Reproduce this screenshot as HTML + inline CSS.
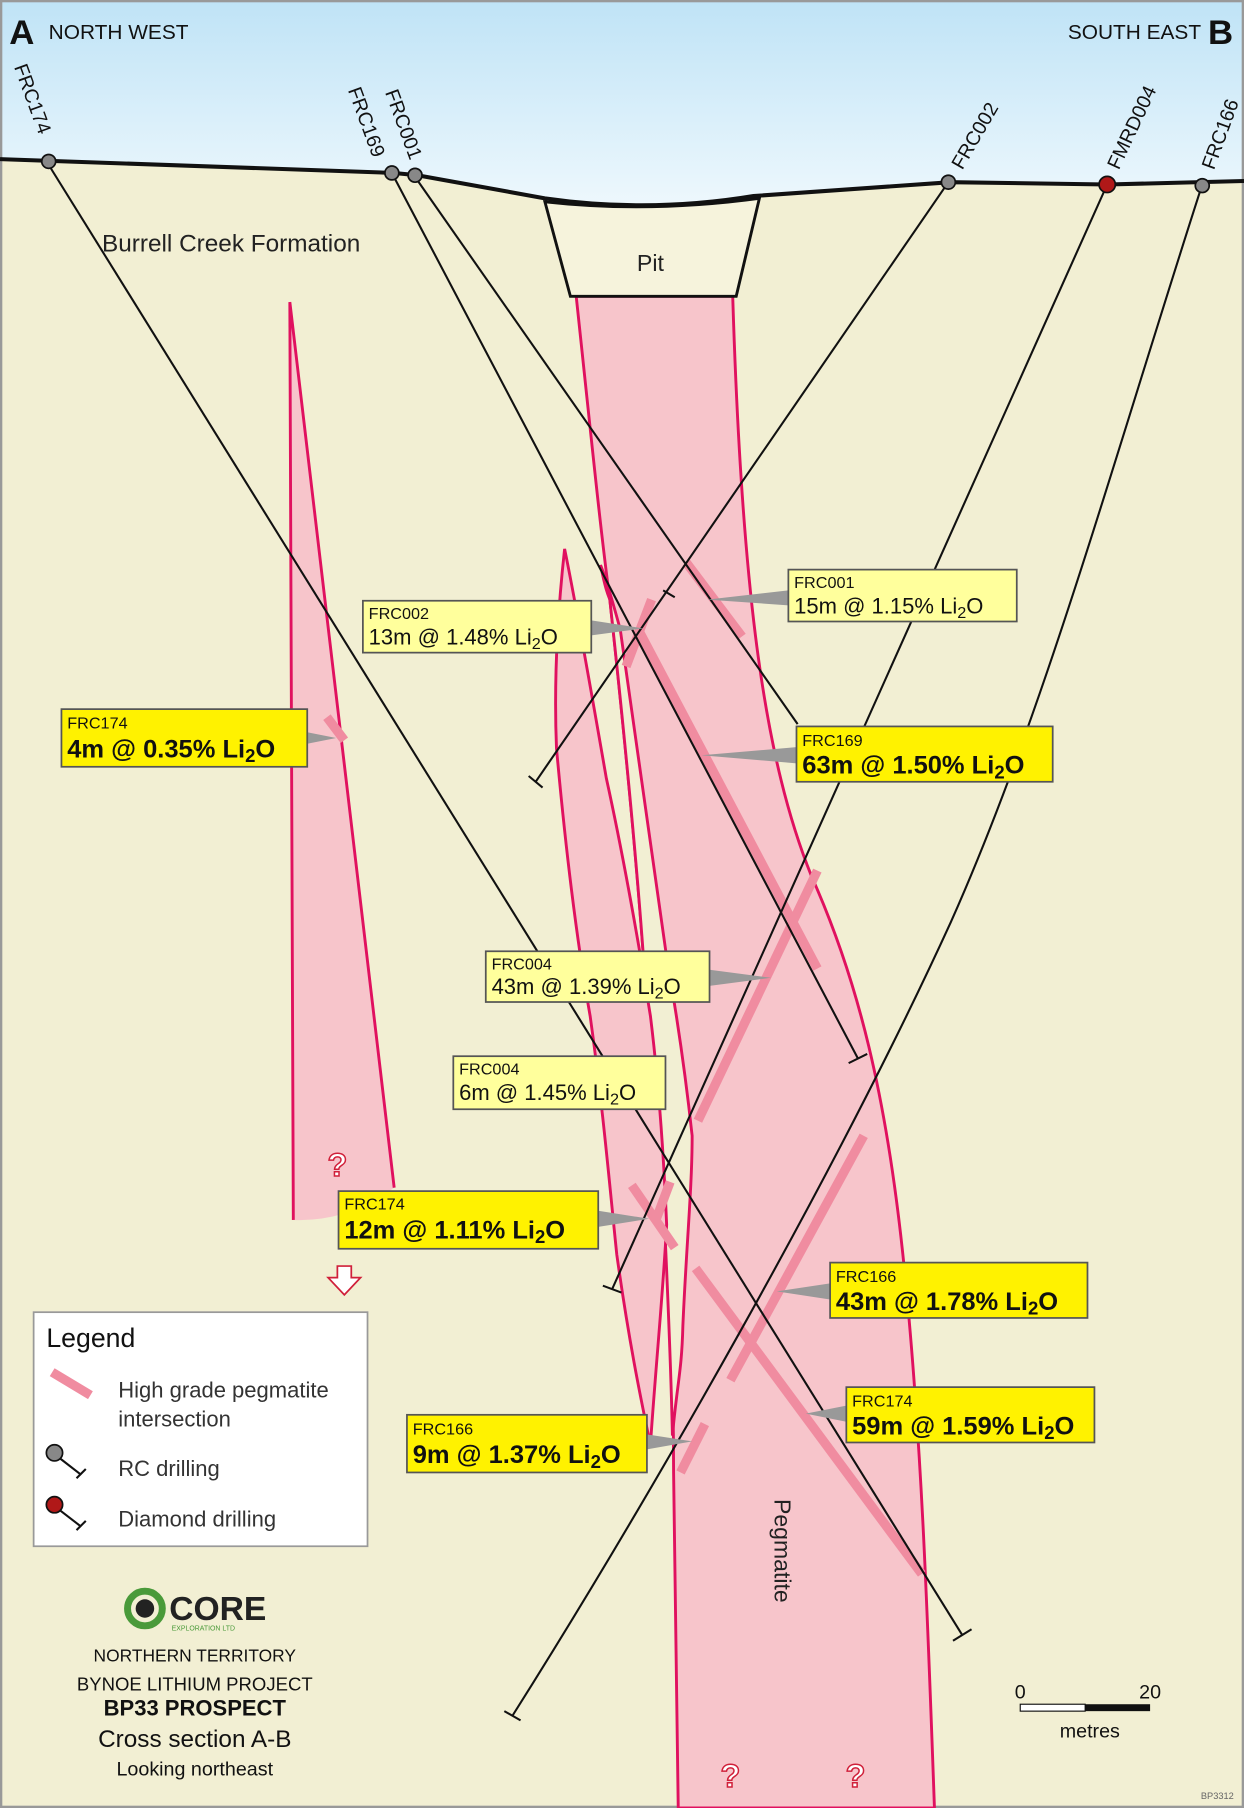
<!DOCTYPE html>
<html><head><meta charset="utf-8"><style>
html,body{margin:0;padding:0;background:#fff}
svg{display:block}
text{font-family:"Liberation Sans",sans-serif}
</style></head><body>
<svg width="1244" height="1808" viewBox="0 0 1073 1568" preserveAspectRatio="none" xmlns="http://www.w3.org/2000/svg">
<defs>
<linearGradient id="sky" x1="0" y1="0" x2="0" y2="1">
<stop offset="0" stop-color="#bfe3f6"/><stop offset="1" stop-color="#eef8fd"/>
</linearGradient>
</defs>
<rect x="0" y="0" width="1073" height="1568" fill="#f2efd3"/>
<path d="M0,0H1073V157L955,160L820,158L650,170Q600,178 560,180L470,172L360,152L340,150L0,138Z" fill="url(#sky)"/>
<rect x="1" y="1" width="1071" height="1566" fill="none" stroke="#999" stroke-width="2"/>

<!-- pegmatite main -->
<path d="M497,257 C510,380 518,460 526,520 C540,650 550,760 555,830 C565,930 570,990 572,1036 C578,1120 581,1200 581,1277 L585,1568 L806,1568 C800,1400 795,1250 780,1100 C765,950 740,850 700,760 C660,660 640,520 632,257 Z" fill="#f7c5cb" stroke="#e0115f" stroke-width="2.5"/>
<!-- beige sliver inside main body -->
<path d="M518,490 C522,510 524,515 526,520 C540,650 550,760 555,830 C565,930 570,990 572,1036 C576,1120 579,1200 580,1245 C584,1200 588,1190 589,1150 C592,1080 597,1030 597,985 C590,920 582,870 575,830 C560,720 545,620 535,546 C528,520 522,500 518,490Z" fill="#f2efd3" stroke="#e0115f" stroke-width="2.5"/>
<!-- left sliver -->
<path d="M250,262 L253,1058 Q300,1060 340,1030 C320,850 290,600 250,262Z" fill="#f7c5cb"/>
<path d="M253,1058 L250,262 C290,600 320,850 340,1030" fill="none" stroke="#e0115f" stroke-width="2.5"/>
<!-- pink lens -->
<path d="M487,476 C480,540 478,600 480,649 C490,760 500,830 509,881 C520,960 526,1030 532,1088 C542,1160 552,1210 561,1253 C566,1180 572,1120 575,1062 C572,990 567,930 561,881 C548,800 535,730 523,675 C510,600 498,530 487,476Z" fill="#f7c5cb" stroke="#e0115f" stroke-width="2.5"/>

<!-- pit -->
<path d="M470,175 Q560,185 655,172 L635,257 L492,257 Z" fill="#f6f3dc" stroke="#111" stroke-width="2.5"/>
<text x="561" y="235" font-size="20" text-anchor="middle" fill="#222">Pit</text>

<!-- ground line -->
<path d="M0,138 L340,150 L360,152 L470,172 Q560,185 650,170 L820,158 L955,160 L1073,157" fill="none" stroke="#111" stroke-width="3.5"/>

<!-- highlights -->
<g stroke="#f08ca0" stroke-width="8" stroke-linecap="butt" fill="none">
<line x1="592" y1="488" x2="640" y2="552"/>
<line x1="562" y1="520" x2="540" y2="578"/>
<line x1="550" y1="545" x2="705" y2="840"/>
<line x1="705" y1="755" x2="602" y2="972"/>
<line x1="282" y1="622" x2="297" y2="642"/>
<line x1="545" y1="1028" x2="582" y2="1082"/>
<line x1="600" y1="1100" x2="795" y2="1365"/>
<line x1="745" y1="985" x2="630" y2="1197"/>
<line x1="608" y1="1235" x2="587" y2="1277"/>
<line x1="578" y1="1025" x2="565" y2="1060"/>
</g>

<!-- drill holes -->
<g stroke="#111" stroke-width="1.8" fill="none">
<line x1="42" y1="143" x2="830" y2="1418"/><line x1="822" y1="1423" x2="838" y2="1413"/>
<line x1="338" y1="150" x2="740" y2="918"/><line x1="732" y1="922" x2="748" y2="914"/>
<line x1="357" y1="152" x2="688" y2="628"/>
<line x1="818" y1="158" x2="462" y2="678"/><line x1="456" y1="673" x2="468" y2="683"/>
<line x1="955" y1="160" x2="528" y2="1118"/><line x1="520" y1="1115" x2="536" y2="1121"/>
<path d="M1037,160 C960,400 900,620 820,800 C720,1020 560,1300 442,1488"/><line x1="435" y1="1484" x2="449" y2="1492"/>
<line x1="572" y1="512" x2="582" y2="518"/>
</g>
<g stroke="#111" stroke-width="1.5">
<circle cx="42" cy="140" r="6" fill="#888"/>
<circle cx="338" cy="150" r="6" fill="#888"/>
<circle cx="358" cy="152" r="6" fill="#888"/>
<circle cx="818" cy="158" r="6" fill="#888"/>
<circle cx="955" cy="160" r="7" fill="#b01818"/>
<circle cx="1037" cy="161" r="6" fill="#888"/>
</g>

<!-- drill labels -->
<g font-size="17" fill="#111">
<text transform="translate(12,58) rotate(70)">FRC174</text>
<text transform="translate(300,78) rotate(70)">FRC169</text>
<text transform="translate(332,80) rotate(70)">FRC001</text>
<text transform="translate(830,148) rotate(-60)">FRC002</text>
<text transform="translate(965,148) rotate(-65)">FMRD004</text>
<text transform="translate(1047,148) rotate(-70)">FRC166</text>
</g>

<!-- header -->
<text x="8" y="38" font-size="30" font-weight="bold" fill="#111">A</text>
<text x="42" y="34" font-size="18" fill="#111">NORTH WEST</text>
<text x="1036" y="34" font-size="18" fill="#111" text-anchor="end">SOUTH EAST</text>
<text x="1042" y="38" font-size="30" font-weight="bold" fill="#111">B</text>
<text x="88" y="218" font-size="21" fill="#222">Burrell Creek Formation</text>
<text transform="translate(668,1300) rotate(90)" font-size="20" fill="#222">Pegmatite</text>

<!-- pointers -->
<g fill="#999">
<polygon points="680,512 680,525 610,520"/>
<polygon points="510,538 510,551 555,545"/>
<polygon points="265,635 265,645 290,640"/>
<polygon points="687,648 687,662 605,655"/>
<polygon points="612,841 612,855 665,848"/>
<polygon points="516,1050 516,1064 560,1057"/>
<polygon points="716,1113 716,1127 670,1120"/>
<polygon points="730,1219 730,1233 695,1226"/>
<polygon points="558,1244 558,1257 597,1250"/>
</g>

<!-- label boxes -->
<g stroke="#555" stroke-width="1.5">
<rect x="680" y="494" width="197" height="45" fill="#ffff9c"/>
<rect x="313" y="521" width="197" height="45" fill="#ffff9c"/>
<rect x="53" y="615" width="212" height="50" fill="#fff200"/>
<rect x="687" y="630" width="221" height="48" fill="#fff200"/>
<rect x="419" y="825" width="193" height="44" fill="#ffff9c"/>
<rect x="391" y="916" width="183" height="46" fill="#ffff9c"/>
<rect x="292" y="1033" width="224" height="50" fill="#fff200"/>
<rect x="716" y="1095" width="222" height="48" fill="#fff200"/>
<rect x="730" y="1203" width="214" height="48" fill="#fff200"/>
<rect x="351" y="1227" width="207" height="50" fill="#fff200"/>
</g>
<g fill="#111">
<text x="685" y="510" font-size="14">FRC001</text>
<text x="685" y="532" font-size="19">15m @ 1.15% Li<tspan font-size="14" dy="4">2</tspan><tspan dy="-4">O</tspan></text>
<text x="318" y="537" font-size="14">FRC002</text>
<text x="318" y="559" font-size="19">13m @ 1.48% Li<tspan font-size="14" dy="4">2</tspan><tspan dy="-4">O</tspan></text>
<text x="58" y="632" font-size="14">FRC174</text>
<text x="58" y="657" font-size="22" font-weight="bold">4m @ 0.35% Li<tspan font-size="16" dy="4">2</tspan><tspan dy="-4">O</tspan></text>
<text x="692" y="647" font-size="14">FRC169</text>
<text x="692" y="671" font-size="22" font-weight="bold">63m @ 1.50% Li<tspan font-size="16" dy="4">2</tspan><tspan dy="-4">O</tspan></text>
<text x="424" y="841" font-size="14">FRC004</text>
<text x="424" y="862" font-size="19">43m @ 1.39% Li<tspan font-size="14" dy="4">2</tspan><tspan dy="-4">O</tspan></text>
<text x="396" y="932" font-size="14">FRC004</text>
<text x="396" y="954" font-size="19">6m @ 1.45% Li<tspan font-size="14" dy="4">2</tspan><tspan dy="-4">O</tspan></text>
<text x="297" y="1049" font-size="14">FRC174</text>
<text x="297" y="1074" font-size="22" font-weight="bold">12m @ 1.11% Li<tspan font-size="16" dy="4">2</tspan><tspan dy="-4">O</tspan></text>
<text x="721" y="1112" font-size="14">FRC166</text>
<text x="721" y="1136" font-size="22" font-weight="bold">43m @ 1.78% Li<tspan font-size="16" dy="4">2</tspan><tspan dy="-4">O</tspan></text>
<text x="735" y="1220" font-size="14">FRC174</text>
<text x="735" y="1244" font-size="22" font-weight="bold">59m @ 1.59% Li<tspan font-size="16" dy="4">2</tspan><tspan dy="-4">O</tspan></text>
<text x="356" y="1244" font-size="14">FRC166</text>
<text x="356" y="1269" font-size="22" font-weight="bold">9m @ 1.37% Li<tspan font-size="16" dy="4">2</tspan><tspan dy="-4">O</tspan></text>
</g>

<!-- question marks -->
<g font-size="28" fill="#fff" stroke="#d0203a" stroke-width="1.3" text-anchor="middle" font-weight="bold">
<text x="291" y="1020">?</text>
<text x="630" y="1550">?</text>
<text x="738" y="1550">?</text>
</g>
<path d="M291,1098 h12 v10 h8 l-14,15 l-14,-15 h8 z" fill="#fff" stroke="#d0203a" stroke-width="1.5"/>

<!-- legend -->
<rect x="29" y="1138" width="288" height="203" fill="#fff" stroke="#999" stroke-width="1.5"/>
<text x="40" y="1168" font-size="23" fill="#111">Legend</text>
<line x1="45" y1="1190" x2="78" y2="1210" stroke="#f08ca0" stroke-width="8"/>
<text x="102" y="1212" font-size="19" fill="#333">High grade pegmatite</text>
<text x="102" y="1237" font-size="19" fill="#333">intersection</text>
<circle cx="47" cy="1260" r="7" fill="#888" stroke="#111" stroke-width="1.5"/>
<line x1="52" y1="1265" x2="70" y2="1279" stroke="#111" stroke-width="1.8"/><line x1="66" y1="1282" x2="74" y2="1274" stroke="#111" stroke-width="1.8"/>
<text x="102" y="1280" font-size="19" fill="#333">RC drilling</text>
<circle cx="47" cy="1305" r="7" fill="#b01818" stroke="#111" stroke-width="1.5"/>
<line x1="52" y1="1310" x2="70" y2="1324" stroke="#111" stroke-width="1.8"/><line x1="66" y1="1327" x2="74" y2="1319" stroke="#111" stroke-width="1.8"/>
<text x="102" y="1324" font-size="19" fill="#333">Diamond drilling</text>

<!-- logo -->
<circle cx="125" cy="1395" r="15" fill="none" stroke="#4a9a3a" stroke-width="6"/>
<circle cx="125" cy="1395" r="8" fill="#222"/>
<text x="146" y="1405" font-size="29" font-weight="bold" fill="#222">CORE</text>
<text x="148" y="1414" font-size="6" fill="#4a9a3a">EXPLORATION LTD</text>
<g text-anchor="middle" fill="#111">
<text x="168" y="1441" font-size="15">NORTHERN TERRITORY</text>
<text x="168" y="1466" font-size="16">BYNOE LITHIUM PROJECT</text>
<text x="168" y="1488" font-size="19" font-weight="bold">BP33 PROSPECT</text>
<text x="168" y="1515" font-size="21">Cross section A-B</text>
<text x="168" y="1540" font-size="17">Looking northeast</text>
</g>

<!-- scale -->
<text x="880" y="1473" font-size="17" fill="#111" text-anchor="middle">0</text>
<text x="992" y="1473" font-size="17" fill="#111" text-anchor="middle">20</text>
<rect x="880" y="1478" width="56" height="6" fill="#fff" stroke="#111" stroke-width="1"/>
<rect x="936" y="1478" width="56" height="6" fill="#111"/>
<text x="940" y="1507" font-size="17" fill="#111" text-anchor="middle">metres</text>
<text x="1050" y="1560" font-size="8" fill="#666" text-anchor="middle">BP3312</text>
</svg>
</body></html>
